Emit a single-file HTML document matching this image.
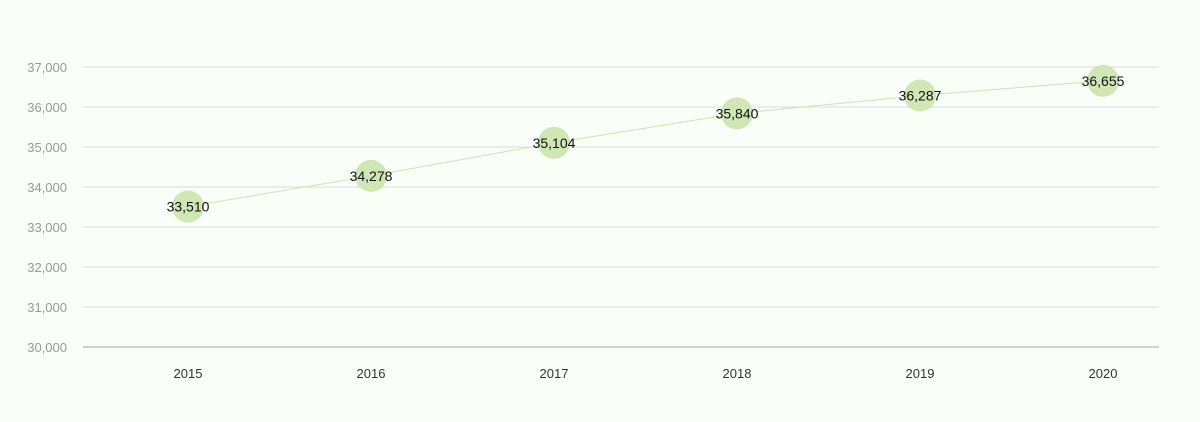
<!DOCTYPE html>
<html><head><meta charset="utf-8"><style>
html,body{margin:0;padding:0;background:#f9fef8;}
svg{display:block;font-family:"Liberation Sans",sans-serif;}
</style></head><body>
<svg id="chart" width="1200" height="422"></svg>
<script>
const categories=["2015","2016","2017","2018","2019","2020"];
const values=[33510,34278,35104,35840,36287,36655];
const valueLabels=["33,510","34,278","35,104","35,840","36,287","36,655"];
const yTicks=[30000,31000,32000,33000,34000,35000,36000,37000];
const yTickLabels=["30,000","31,000","32,000","33,000","34,000","35,000","36,000","37,000"];
const svg=document.getElementById('chart');
const NS='http://www.w3.org/2000/svg';
const y=v=>347-(v-30000)*0.04;
const x=i=>188+i*183;
function mk(t,a){const e=document.createElementNS(NS,t);for(const k in a)e.setAttribute(k,a[k]);svg.appendChild(e);return e;}
yTicks.forEach((t,i)=>{
  const g=mk('line',{x1:83,x2:1159,y1:y(t),y2:y(t),stroke:i==0?'#d0d0d0':'#dcdcdc','stroke-width':i==0?2:1});
  
  
  const l=mk('text',{x:67,y:y(t)+5,'text-anchor':'end','font-size':13,fill:'#999'});
  l.textContent=yTickLabels[i];
  
  
});
categories.forEach((c,i)=>{
  const l=mk('text',{x:x(i),y:378,'text-anchor':'middle','font-size':13,fill:'#333'});
  l.textContent=c;
  
  
});
const line=mk('polyline',{points:values.map((v,i)=>x(i)+','+y(v)).join(' '),fill:'none',stroke:'#cfe3b4','stroke-width':1});


values.forEach((v,i)=>{
  const c=mk('circle',{cx:x(i),cy:y(v),r:16,fill:'#d0e6b4'});
  
  
  const t=mk('text',{x:x(i),y:y(v)+5,'text-anchor':'middle','font-size':14,fill:'#111'});
  t.textContent=valueLabels[i];
  
  
});
</script>
</body></html>
